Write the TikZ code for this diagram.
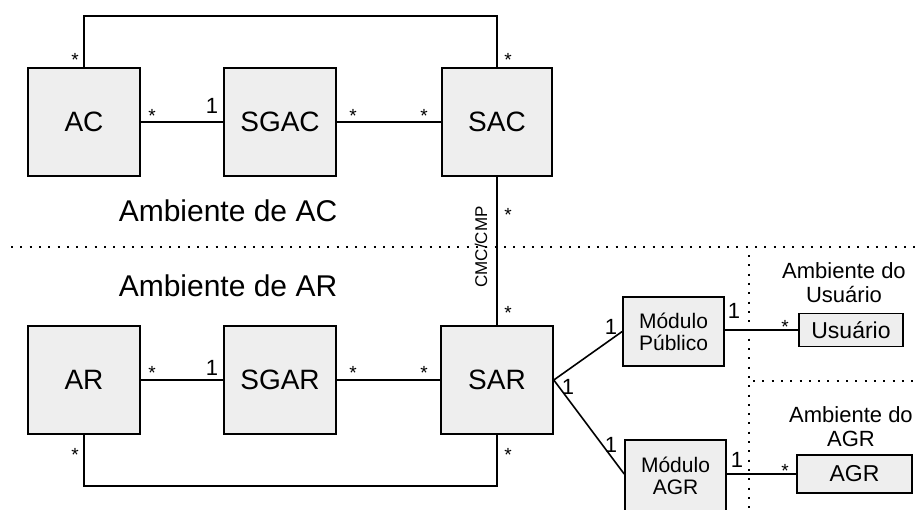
\documentclass[tikz,border=0pt]{standalone}
\usepackage{fontspec}
\setmainfont{Liberation Sans}
\definecolor{boxfill}{RGB}{238,238,238}
\tikzset{
  blk/.style={draw, line width=1.6pt, fill=boxfill, inner sep=0pt,
    minimum width=112pt, minimum height=108pt, font=\fontsize{28}{30}\selectfont},
  modbox/.style={draw, line width=1.6pt, fill=boxfill, inner sep=0pt, align=center,
    minimum width=101pt, minimum height=69pt, font=\fontsize{21}{22}\selectfont},
  smallbox/.style={draw, line width=1.6pt, fill=boxfill, inner sep=0pt,
    minimum height=33pt, font=\fontsize{23}{24}\selectfont},
  conn/.style={line width=1.6pt},
  star/.style={anchor=base, font=\fontsize{19}{19}\selectfont, inner sep=0pt},
  one/.style={anchor=base, font=\fontsize{22}{22}\selectfont, inner sep=0pt},
  env/.style={anchor=base, font=\fontsize{30}{30}\selectfont, inner sep=0pt},
  envsmall/.style={align=center, font=\fontsize{22}{24}\selectfont, inner sep=0pt},
  sep/.style={line width=2pt, dash pattern=on 2pt off 7.3pt}
}
\begin{document}
\begin{tikzpicture}[x=1pt,y=-1pt]
\useasboundingbox (0,0) rectangle (916,509);

% separators
\coordinate (dl) at (11,247);
\coordinate (dr) at (916,247);
\coordinate (vt) at (749,255);
\coordinate (vb) at (749,509);
\coordinate (hl) at (753,381);
\coordinate (hr) at (916,381);
\draw[sep] (dl) -- (dr);
\draw[sep] (vt) -- (vb);
\draw[sep] (hl) -- (hr);

% boxes
\node[blk] (AC) at (84,122) {AC};
\node[blk] (SGAC) at (280,122) {SGAC};
\node[blk, minimum width=110pt] (SAC) at (497,122) {SAC};
\node[blk] (AR) at (84,380) {AR};
\node[blk] (SGAR) at (280,380) {SGAR};
\node[blk, minimum width=112pt] (SAR) at (497,380) {SAR};
\node[modbox] (MP) at (673.5,331.5) {Módulo\\Público};
\node[modbox, minimum height=72pt] (MAGR) at (675.5,476) {Módulo\\AGR};
\node[smallbox, minimum width=104pt] (USR) at (851,330) {Usuário};
\node[smallbox, minimum width=115pt, minimum height=38pt] (AGR) at (854.5,474) {AGR};

% environment labels
\node[env] (envac) at (228,221) {Ambiente de AC};
\node[env] (envar) at (228,296) {Ambiente de AR};
\node[envsmall] (envusr) at (844,283) {Ambiente do\\Usuário};
\node[envsmall] (envagr) at (851,426.5) {Ambiente do\\AGR};

% connectors
\coordinate (topy) at (0,16);
\coordinate (boty) at (0,486);
\draw[conn] (AC.east) -- (SGAC.west);
\draw[conn] (SGAC.east) -- (SAC.west);
\draw[conn] (AC.north) -- (AC.north |- topy) -| (SAC.north);
\draw[conn] (SAC.south) -- (SAR.north);
\draw[conn] (AR.east) -- (SGAR.west);
\draw[conn] (SGAR.east) -- (SAR.west);
\draw[conn] (AR.south) -- (AR.south |- boty) -| (SAR.south);
\draw[conn] (SAR.east) -- (MP.west);
\draw[conn] (SAR.east) -- (MAGR.west |- AGR.west);
\draw[conn] (MP.east |- USR.west) -- (USR.west);
\draw[conn] (MAGR.east |- AGR.west) -- (AGR.west);

\node[rotate=90, font=\fontsize{17}{17}\selectfont, inner sep=0pt] (cmc) at (481,247) {CMC/CMP};

% multiplicities
\node[star] (m1) at (152,122) {*};
\node[one] (m2) at (212,113) {1};
\node[star] (m3) at (353,122) {*};
\node[star] (m4) at (424,122) {*};
\node[star] (m5) at (75,66) {*};
\node[star] (m6) at (508,66) {*};
\node[star] (m7) at (508,221) {*};
\node[star] (m8) at (508,319) {*};
\node[star] (m9) at (152,379) {*};
\node[one] (m10) at (212,375) {1};
\node[star] (m11) at (353,379) {*};
\node[star] (m12) at (424,379) {*};
\node[star] (m13) at (75,461) {*};
\node[star] (m14) at (508,461) {*};
\node[one] (m15) at (611,334) {1};
\node[one] (m16) at (568,394) {1};
\node[one] (m17) at (611,452) {1};
\node[one] (m18) at (734,318) {1};
\node[star] (m19) at (785,333) {*};
\node[one] (m20) at (737,467) {1};
\node[star] (m21) at (785,477) {*};
\end{tikzpicture}
\end{document}
